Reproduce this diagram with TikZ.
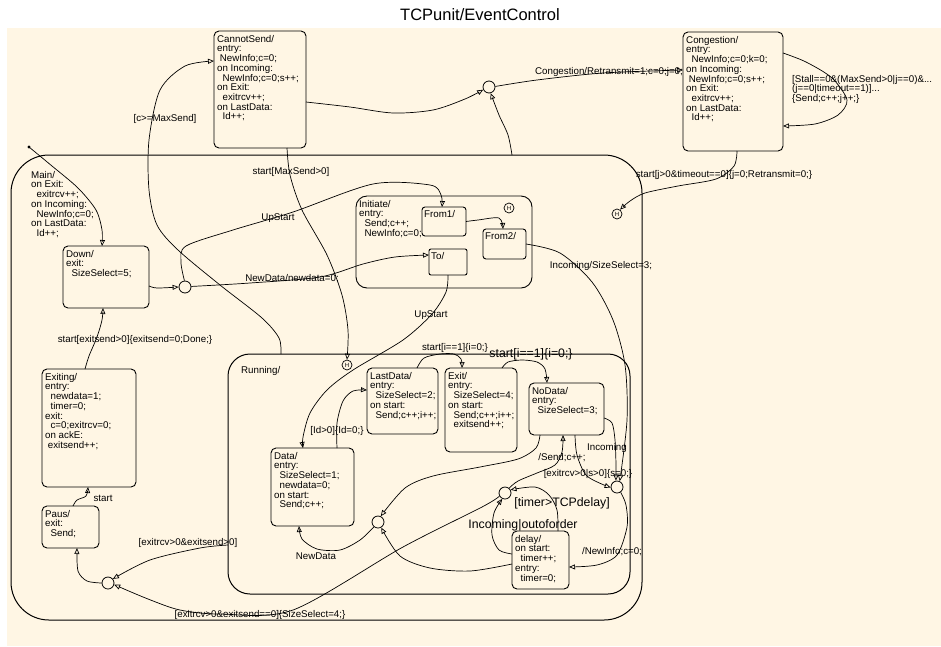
\documentclass[tikz,border=0pt]{standalone}
\usepackage{fontspec}
\setmainfont{Liberation Sans}
\usetikzlibrary{arrows.meta}
\definecolor{sfcream}{RGB}{255,246,228}
\newcommand\sfind{\hspace*{2.7pt}}

\begin{document}
\begin{tikzpicture}[x=1pt,y=-1pt,%
  font=\fontsize{9.75}{9.7}\selectfont,%
  state/.style={draw, rounded corners=5pt, line width=0.9pt, inner sep=0pt, outer sep=0pt, anchor=north west},%
  txt/.style={anchor=north west, align=left, inner sep=0pt},%
  lbl/.style={inner sep=0pt},%
  biglbl/.style={inner sep=0pt, font=\fontsize{12.3}{12}\selectfont},%
  junc/.style={draw, circle, minimum size=12pt, inner sep=0pt, line width=0.8pt},%
  hist/.style={draw, circle, minimum size=10pt, inner sep=0pt, line width=0.7pt, font=\fontsize{6}{6}\selectfont},%
  tr/.style={draw, line width=0.7pt, -{Triangle[open, length=6pt, width=5pt]}},%
  ]%
\useasboundingbox (0,0) rectangle (941,646);
\fill[sfcream] (7,28) rectangle (941,646);
\node[font=\fontsize{16.5}{16}\selectfont] (title) at (480,15) {TCPunit/EventControl};

% regions
\node[state, rounded corners=38pt, line width=1pt, minimum width=631pt, minimum height=465pt] (main) at (11,155) {};
\node[txt] (main-txt) at ([xshift=20pt,yshift=-16pt]main.north west) {Main/\\on Exit:\\\sfind\sfind exitrcv++;\\on Incoming:\\\sfind\sfind NewInfo;c=0;\\on LastData:\\\sfind\sfind Id++;};
\node[state, rounded corners=22pt, line width=1pt, minimum width=402pt, minimum height=240pt] (running) at (228,354) {};
\node[txt] (running-txt) at ([xshift=13pt,yshift=-12pt]running.north west) {Running/};
\node[state, rounded corners=11pt, minimum width=176pt, minimum height=92pt] (initiate) at (356,196) {};
\node[txt] (initiate-txt) at ([xshift=3pt,yshift=-4pt]initiate.north west) {Initiate/\\entry:\\\sfind\sfind Send;c++;\\\sfind\sfind NewInfo;c=0;};

% states
\node[state, minimum width=92pt, minimum height=117pt] (cannot) at (214,31) {};
\node[txt] (cannot-txt) at ([xshift=3pt,yshift=-4pt]cannot.north west) {CannotSend/\\entry:\\\sfind NewInfo;c=0;\\on Incoming:\\\sfind\sfind NewInfo;c=0;s++;\\on Exit:\\\sfind\sfind exitrcv++;\\on LastData:\\\sfind\sfind Id++;};
\node[state, minimum width=100pt, minimum height=119pt] (congestion) at (683,32) {};
\node[txt] (congestion-txt) at ([xshift=3pt,yshift=-4pt]congestion.north west) {Congestion/\\entry:\\\sfind\sfind NewInfo;c=0;k=0;\\on Incoming:\\\sfind NewInfo;c=0;s++;\\on Exit:\\\sfind\sfind exitrcv++;\\on LastData:\\\sfind\sfind Id++;};
\node[state, minimum width=86pt, minimum height=62pt] (down) at (63,246) {};
\node[txt] (down-txt) at ([xshift=3pt,yshift=-4pt]down.north west) {Down/\\exit:\\\sfind\sfind SizeSelect=5;};
\node[state, minimum width=94pt, minimum height=118pt] (exiting) at (42,369) {};
\node[txt] (exiting-txt) at ([xshift=3pt,yshift=-4pt]exiting.north west) {Exiting/\\entry:\\\sfind\sfind newdata=1;\\\sfind\sfind timer=0;\\exit:\\\sfind\sfind c=0;exitrcv=0;\\on ackE:\\\sfind exitsend++;};
\node[state, minimum width=57pt, minimum height=42pt] (paus) at (42,506) {};
\node[txt] (paus-txt) at ([xshift=3pt,yshift=-4pt]paus.north west) {Paus/\\exit:\\\sfind\sfind Send;};
\node[state, rounded corners=3pt, minimum width=44pt, minimum height=29pt] (from1) at (422,207) {};
\node[txt] (from1-txt) at ([xshift=2pt,yshift=-3pt]from1.north west) {From1/};
\node[state, rounded corners=3pt, minimum width=43pt, minimum height=30pt] (from2) at (483,229) {};
\node[txt] (from2-txt) at ([xshift=2pt,yshift=-3pt]from2.north west) {From2/};
\node[state, rounded corners=2pt, minimum width=38pt, minimum height=26pt] (to) at (429,249) {};
\node[txt] (to-txt) at ([xshift=2pt,yshift=-3pt]to.north west) {To/};
\node[state, minimum width=83pt, minimum height=78pt] (data) at (271,448) {};
\node[txt] (data-txt) at ([xshift=3pt,yshift=-4pt]data.north west) {Data/\\entry:\\\sfind\sfind SizeSelect=1;\\\sfind\sfind newdata=0;\\on start:\\\sfind\sfind Send;c++;};
\node[state, minimum width=71pt, minimum height=66pt] (lastdata) at (367,368) {};
\node[txt] (lastdata-txt) at ([xshift=3pt,yshift=-4pt]lastdata.north west) {LastData/\\entry:\\\sfind\sfind SizeSelect=2;\\on start:\\\sfind\sfind Send;c++;i++;};
\node[state, minimum width=72pt, minimum height=84pt] (exit) at (445,368) {};
\node[txt] (exit-txt) at ([xshift=3pt,yshift=-4pt]exit.north west) {Exit/\\entry:\\\sfind\sfind SizeSelect=4;\\on start:\\\sfind\sfind Send;c++;i++;\\\sfind\sfind exitsend++;};
\node[state, minimum width=75pt, minimum height=52pt] (nodata) at (529,383) {};
\node[txt] (nodata-txt) at ([xshift=3pt,yshift=-4pt]nodata.north west) {NoData/\\entry:\\\sfind\sfind SizeSelect=3;};
\node[state, minimum width=57pt, minimum height=58pt] (delay) at (512,531) {};
\node[txt] (delay-txt) at ([xshift=3pt,yshift=-4pt]delay.north west) {delay/\\on start:\\\sfind\sfind timer++;\\entry:\\\sfind\sfind timer=0;};

% junctions and history
\node[junc] (jc) at (489,87) {};
\node[junc] (jd) at (185,287) {};
\node[junc] (jn) at (617,487) {};
\node[junc] (j1) at (505,493) {};
\node[junc] (j2) at (378,522) {};
\node[junc] (jp) at (108,583) {};
\node[hist] (hc) at (617,214) {H};
\node[hist] (hi) at (509,208) {H};
\node[hist] (hr) at (347,365) {H};
\coordinate (dflt) at (29,147);
\fill (dflt) circle (1.6pt);

% transitions
\draw[tr] plot[smooth] coordinates {([xshift=-148pt]running.north) (279,338) (262,318) (220,285) (178,250) (157,225) (149,190) (149,140) (160,90) (185,66) ([yshift=28.5pt]cannot.west)};
\draw[tr] plot[smooth] coordinates {([xshift=27pt]cannot.south) (290,175) (302,210) (327,255) (342,295) (348,330) (hr.north)};
\draw[tr] plot[smooth] coordinates {([yshift=-12.5pt]cannot.east) (350,107) (393,113) (433,110) (465,99) (jc.205)};
\draw[tr] plot[smooth] coordinates {([xshift=185.5pt]main.north) (508,135) (499,115) (jc.-75)};
\draw[tr] plot[smooth] coordinates {(jc.5) (537,80) (603,73) ([yshift=21.5pt]congestion.west)};
\draw[tr] plot[smooth] coordinates {([yshift=38.5pt]congestion.east) (806,62) (832,78) (847,100) (838,115) (815,124) ([yshift=-34.5pt]congestion.east)};
\draw[tr] plot[smooth] coordinates {([xshift=4pt]congestion.south) (734,166) (716,179) (678,186) (645,193) (630,201) (hc.55)};
\draw[tr] plot[smooth] coordinates {(dflt) (52,166) (78,188) (96,210) (102,230) ([xshift=-4pt]down.north)};
\draw[tr] plot[smooth] coordinates {([yshift=-9pt]down.east) (157,288) (jd.180)};
\draw[tr] plot[smooth] coordinates {(jd.95) (181,262) (186,246) (233,230) (293,212) (373,184) (430,185) (441,195) ([xshift=-2pt]from1.north)};
\draw[tr] plot[smooth] coordinates {(jd.5) (250,283) (320,277) (363,264) (395,257) ([yshift=7pt]to.west)};
\draw[tr] plot[smooth] coordinates {(from1.east) (478,220) (499,218) ([xshift=-1.5pt]from2.north)};
\draw[tr] plot[smooth] coordinates {(from2.east) (560,253) (592,282) (613,320) (625,365) (627,420) (jn.65)};
\draw[tr] plot[smooth] coordinates {(to.south) (446,292) (432,314) (403,340) (353,370) (327,390) (310,413) (303,437) ([xshift=-9.5pt]data.north)};
\draw[tr] plot[smooth] coordinates {([xshift=24.5pt]data.north) (337,423) (343,401) (353,391) ([yshift=11pt]lastdata.west)};
\draw[tr] plot[smooth] coordinates {([xshift=14.5pt]lastdata.north) (424,358) (440,354) (454,354) (461,359) ([xshift=-19pt]exit.north)};
\draw[tr] plot[smooth] coordinates {([xshift=21pt]exit.north) (508,362) (522,360) (537,362) (545,369) ([xshift=-19.5pt]nodata.north)};
\draw[tr] plot[smooth] coordinates {([yshift=-9pt]nodata.east) (612,423) (615,440) (616,465) (jn.100)};
\draw[tr] plot[smooth] coordinates {([xshift=8.5pt]nodata.south) (577,455) (587,476) (jn.185)};
\draw[tr] plot[smooth] coordinates {(jn.-55) (626,505) (627,527) (617,555) (597,565) ([yshift=-7pt]delay.east)};
\draw[tr] plot[smooth] coordinates {([xshift=-26.5pt]nodata.south) (536,448) (518,459) (480,467) (433,476) (405,488) (j2.65)};
\draw[tr] plot[smooth] coordinates {(j1.50) (518,481) (537,473) (555,465) (562,452) ([xshift=-3.5pt]nodata.south)};
\draw[tr] plot[smooth] coordinates {([xshift=17.5pt]delay.north) (557,510) (549,495) (535,487) (j1.30)};
\draw[tr] plot[smooth] coordinates {([yshift=6pt]delay.west) (499,550) (492,535) (494,513) (j1.-115)};
\draw[tr] plot[smooth] coordinates {([yshift=-4pt]delay.west) (470,571) (430,568) (400,556) (j2.-60)};
\draw[tr] plot[smooth] coordinates {(j2.-130) (360,540) (340,550) (317,549) (302,539) ([xshift=-13.5pt]data.south)};
\draw[tr] plot[smooth] coordinates {(j1.-150) (482,507) (403,547) (293,610) (220,614) (180,610) (148,599) (jp.-15)};
\draw[tr] plot[smooth] coordinates {([yshift=-71pt]running.west) (200,548) (150,560) (jp.40)};
\draw[tr] plot[smooth] coordinates {(jp.180) (87,581) (78,571) ([xshift=6.5pt]paus.south)};
\draw[tr] plot[smooth] coordinates {([xshift=2.5pt]paus.north) (77,500) (86,496) ([xshift=-1pt]exiting.south)};
\draw[tr] plot[smooth] coordinates {([xshift=-4pt]exiting.north) (89,356) (97,337) (102,320) ([xshift=-3pt]down.south)};

% transition labels
\node[lbl] (l-cmax) at (165,119) {[c>=MaxSend]};
\node[lbl] (l-maxsend) at (291,172) {start[MaxSend>0]};
\node[lbl] (l-retrans) at (609,72) {Congestion/Retransmit=1;c=0;j=0;};
\node[txt] (l-stall) at (792,75) {[Stall==0\&(MaxSend>0|j==0)\&...\\(j==0|timeout==1)]...\\\{Send;c++;j++;\}};
\node[lbl] (l-timeout) at (724,175) {start[j>0\&timeout==0]\{j=0;Retransmit=0;\}};
\node[lbl] (l-upstart1) at (278,218) {UpStart};
\node[lbl] (l-newdata1) at (292,279) {NewData/newdata=0;};
\node[lbl] (l-incsize) at (601,266) {Incoming/SizeSelect=3;};
\node[lbl] (l-upstart2) at (431,315) {UpStart};
\node[lbl] (l-istart1) at (455,348) {start[i==1]\{i=0;\}};
\node[biglbl] (l-istart2) at (531,354) {start[i==1]\{i=0;\}};
\node[lbl] (l-id) at (337,431) {[Id>0]\{Id=0;\}};
\node[lbl] (l-incoming) at (607,448) {Incoming};
\node[lbl] (l-send) at (562,458) {/Send;c++;};
\node[lbl] (l-exitrcv) at (588,474) {[exitrcv>0|s>0]\{s=0;\}};
\node[biglbl] (l-timer) at (562,503) {[timer>TCPdelay]};
\node[biglbl] (l-outoforder) at (523,525) {Incoming|outoforder};
\node[lbl] (l-newinfo) at (612,552) {/NewInfo;c=0;};
\node[lbl] (l-newdata2) at (316,556) {NewData};
\node[lbl] (l-done) at (135,340) {start[exitsend>0]\{exitsend=0;Done;\}};
\node[lbl] (l-start) at (103,498) {start};
\node[lbl] (l-exitgt) at (188,543) {[exitrcv>0\&exitsend>0]};
\node[lbl] (l-exiteq) at (260,615) {[exitrcv>0\&exitsend==0]\{SizeSelect=4;\}};
\end{tikzpicture}
\end{document}
